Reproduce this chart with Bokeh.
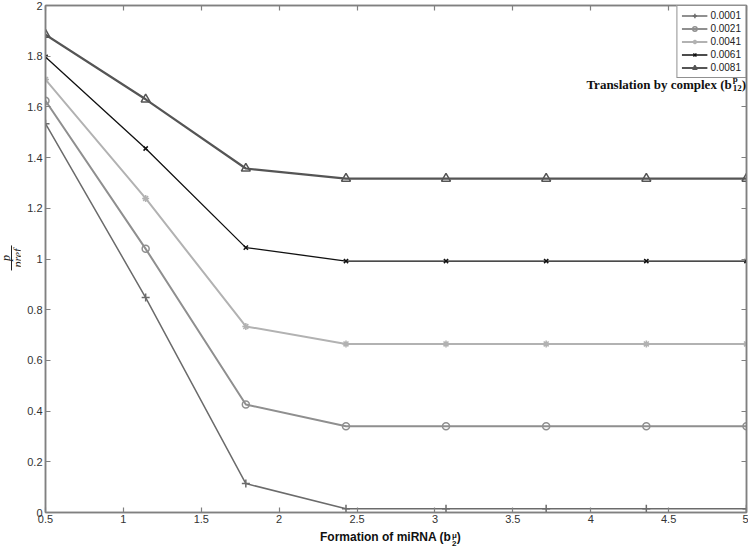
from bokeh.plotting import figure
from bokeh.models import (Range1d, LinearAxis, FixedTicker, CustomJSTickFormatter,
                          Label, Legend, LegendItem, Div)
from bokeh.layouts import row, column
from bokeh.embed import file_html
from bokeh.resources import INLINE

# ---------------- data ----------------
x_vals = [0.5, 1.143, 1.786, 2.429, 3.071, 3.714, 4.357, 5.0]
series_names = ["0.0001", "0.0021", "0.0041", "0.0061", "0.0081"]
y_0001 = [1.534, 0.848, 0.114, 0.015, 0.015, 0.015, 0.015, 0.015]
y_0021 = [1.624, 1.040, 0.426, 0.340, 0.340, 0.340, 0.340, 0.340]
y_0041 = [1.708, 1.239, 0.734, 0.665, 0.665, 0.665, 0.665, 0.665]
y_0061 = [1.797, 1.436, 1.045, 0.992, 0.992, 0.992, 0.992, 0.992]
y_0081 = [1.885, 1.630, 1.357, 1.317, 1.317, 1.317, 1.317, 1.317]
x_ticks = [0.5, 1, 1.5, 2, 2.5, 3, 3.5, 4, 4.5, 5]
y_ticks = [0, 0.2, 0.4, 0.6, 0.8, 1, 1.2, 1.4, 1.6, 1.8, 2]
x_title_main = "Formation of miRNA (b"
x_title_sup = "\u03bc"
x_title_sub = "2"
y_title_num = "p"
y_title_den = "pref"
note_main = "Translation by complex (b"
note_sup = "p"
note_sub = "12"

all_y = [y_0001, y_0021, y_0041, y_0061, y_0081]

# ---------------- styles ----------------
colors = ["#6b6b6b", "#8f8f8f", "#b2b2b2", "#111111", "#555555"]
markers = ["cross", "circle", "asterisk", "x", "triangle"]
line_widths = [1.5, 2.0, 2.0, 1.3, 2.2]
marker_sizes = [8, 7, 7, 6, 9]

AX = "#808080"
TXT = "#333333"

p = figure(width=728, height=528, x_range=Range1d(0.5, 5), y_range=Range1d(0, 2),
           output_backend="svg", toolbar_location=None,
           min_border_left=25, min_border_right=2, min_border_top=5, min_border_bottom=16)
p.background_fill_color = "white"
p.border_fill_color = "white"
p.outline_line_color = AX
p.outline_line_width = 1.5
p.xgrid.visible = False
p.ygrid.visible = False

fmt = CustomJSTickFormatter(code="return String(Number(tick.toFixed(2)));")

def style_axis(ax, ticks, show_labels=True):
    ax.ticker = FixedTicker(ticks=ticks)
    ax.formatter = fmt
    ax.major_tick_in = 5
    ax.major_tick_out = 0
    ax.minor_tick_line_color = None
    ax.axis_line_color = AX
    ax.axis_line_width = 1.5
    ax.major_tick_line_color = AX
    ax.major_tick_line_width = 1.2
    ax.major_label_text_font = "Liberation Sans"
    if show_labels:
        ax.major_label_text_color = TXT
        ax.major_label_text_font_size = "11px"
        ax.major_label_standoff = 3
    else:
        ax.major_label_text_color = None
        ax.major_label_text_font_size = "0px"
        ax.major_label_standoff = 0

style_axis(p.xaxis[0], x_ticks)
style_axis(p.yaxis[0], y_ticks)
p.xaxis[0].major_label_standoff = 2

top_ax = LinearAxis()
right_ax = LinearAxis()
style_axis(top_ax, x_ticks, show_labels=False)
style_axis(right_ax, y_ticks, show_labels=False)
p.add_layout(top_ax, "above")
p.add_layout(right_ax, "right")

items = []
for name, ys, c, m, lw, ms in zip(series_names, all_y, colors, markers, line_widths, marker_sizes):
    r_line = p.line(x_vals, ys, line_color=c, line_width=lw)
    r_mk = p.scatter(x_vals, ys, marker=m, size=ms, line_color=c, line_width=1.5,
                     fill_color=c, fill_alpha=(1.0 if m in ("asterisk", "x", "cross") else 0.0))
    items.append(LegendItem(label=name, renderers=[r_line, r_mk]))

legend = Legend(items=items, location="top_right")
legend.margin = 0
legend.padding = 4
legend.spacing = 2
legend.glyph_height = 11
legend.label_height = 11
legend.glyph_width = 26
legend.label_standoff = 3
legend.label_text_font = "Liberation Sans"
legend.label_text_font_size = "10px"
legend.label_text_color = "#222222"
legend.border_line_color = "#222222"
legend.border_line_width = 1
legend.background_fill_color = "white"
legend.background_fill_alpha = 1.0
p.add_layout(legend)

# ---------------- annotation inside the frame: Translation by complex (b^p_12) ----------------
tl_x = 4.905
tl_y = 1.69
p.add_layout(Label(x=tl_x, y=tl_y, text=note_main,
                   text_align="right", text_baseline="middle", text_font="Liberation Serif",
                   text_font_style="bold", text_font_size="13px", text_color="#111111"))
p.add_layout(Label(x=tl_x, y=tl_y, x_offset=1, y_offset=5, text=note_sup,
                   text_align="left", text_baseline="middle", text_font="Liberation Serif",
                   text_font_style="bold", text_font_size="9px", text_color="#111111"))
p.add_layout(Label(x=tl_x, y=tl_y, x_offset=1, y_offset=-4, text=note_sub,
                   text_align="left", text_baseline="middle", text_font="Liberation Serif",
                   text_font_style="bold", text_font_size="9px", text_color="#111111"))
p.add_layout(Label(x=tl_x, y=tl_y, x_offset=10, y_offset=0, text=")",
                   text_align="left", text_baseline="middle", text_font="Liberation Serif",
                   text_font_style="bold", text_font_size="13px", text_color="#111111"))

# ---------------- y-axis title: fraction p / pref (rotated) ----------------
y_html = (
    '<div style="position:relative;width:20px;height:528px;">'
    '<div style="position:absolute;left:12px;top:258px;transform:translate(-50%,-50%) rotate(-90deg);'
    'display:flex;flex-direction:column;align-items:center;font-family:\'Liberation Serif\',serif;'
    'font-style:italic;font-size:12px;line-height:10px;color:#222;white-space:nowrap;">'
    f'<span>{y_title_num}</span>'
    f'<span style="border-top:1px solid #222;padding:1px 3px 0 3px;">{y_title_den}</span>'
    '</div></div>'
)
ydiv = Div(text=y_html, width=20, height=528, margin=(0, 0, 0, 0))

# ---------------- x-axis title: Formation of miRNA (b^mu_2) ----------------
x_html = (
    '<div style="position:relative;width:728px;height:20px;">'
    '<div style="position:absolute;left:300px;top:1px;font-family:\'Liberation Sans\',sans-serif;'
    'font-weight:bold;font-size:12px;line-height:16px;color:#111;white-space:nowrap;">'
    f'{x_title_main}'
    '<span style="display:inline-block;vertical-align:-5px;font-size:8px;line-height:8px;'
    f'text-align:left;margin-left:1px;">{x_title_sup}<br>{x_title_sub}</span>)'
    '</div></div>'
)
xdiv = Div(text=x_html, width=728, height=20, margin=(0, 0, 0, 0))

layout = row(column(ydiv), column(p, xdiv))

open("out.html", "w").write(file_html(layout, INLINE))
